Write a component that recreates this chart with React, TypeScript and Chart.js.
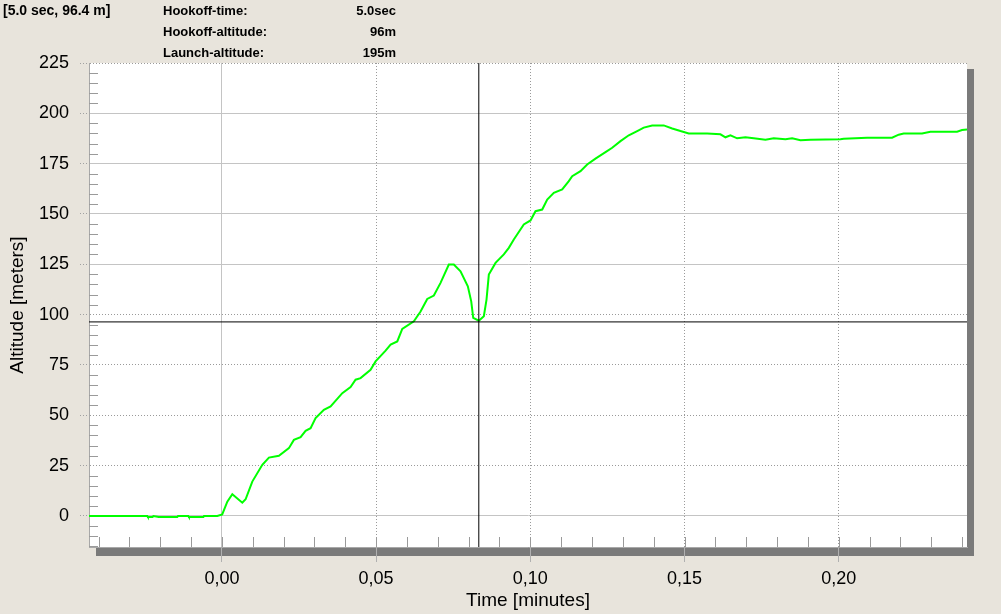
import React, { useEffect, useRef } from 'react';
import { Chart, registerables } from 'chart.js';

Chart.register(...registerables);

// Time in minutes, altitude in meters
const timeMin: number[] = [
  -0.0431, -0.0242, -0.024, -0.0225, -0.0222, -0.0205, -0.0145, -0.0142, -0.0109, -0.0107,
  -0.006, -0.0058, -0.0015, 0.0001, 0.00175, 0.00337, 0.00661, 0.00768, 0.00985, 0.0131,
  0.01524, 0.01848, 0.02172, 0.02334, 0.02551, 0.02713, 0.02875, 0.03037, 0.03306, 0.03524,
  0.03903, 0.04172, 0.04334, 0.04496, 0.0482, 0.04982, 0.053, 0.0547, 0.05686, 0.05848,
  0.06224, 0.06441, 0.06658, 0.06872, 0.07089, 0.07358, 0.0752, 0.07737, 0.07974, 0.08084,
  0.08149, 0.08331, 0.08493, 0.0858, 0.08655, 0.08872, 0.09141, 0.09303, 0.09465, 0.09789,
  0.10006, 0.10168, 0.10386, 0.10548, 0.10762, 0.11034, 0.11248, 0.11358, 0.11627, 0.11844,
  0.12113, 0.12438, 0.12655, 0.12924, 0.13193, 0.13465, 0.13679, 0.13951, 0.14327, 0.146,
  0.14869, 0.15138, 0.15734, 0.16165, 0.16327, 0.1649, 0.16707, 0.16976, 0.17245, 0.17624,
  0.17893, 0.18273, 0.1849, 0.18759, 0.19083, 0.20055, 0.20162, 0.2092, 0.21731, 0.21945,
  0.22107, 0.22703, 0.22973, 0.23838, 0.24, 0.2416,
];
const altitudeM: number[] = [
  0, 0, -0.5, -0.5, 0, -0.5, -0.5, 0, 0, -0.5,
  -0.5, 0, 0, 0.8, 7.1, 10.8, 6.6, 8.3, 17.1, 25.4,
  29, 29.9, 33.7, 37.8, 39.2, 42.3, 43.6, 48.6, 52.7, 54.4,
  61, 64, 67.7, 68.5, 72.6, 76.8, 82, 85.1, 86.7, 92.9,
  96.7, 101.6, 107.8, 109.5, 115.8, 124.9, 124.9, 121.5, 114.1, 106.6,
  98.4, 97, 99.2, 107.5, 119.9, 125.7, 129.9, 133.2, 137.3, 144.8,
  146.8, 151.4, 152.2, 157.2, 160.5, 162.2, 166.3, 168.8, 171.3, 174.6,
  177.5, 180.7, 182.9, 186.2, 189.1, 191.2, 192.9, 194, 194, 192.5,
  191.2, 190, 190, 189.6, 188.1, 189.1, 187.6, 188.1, 187.6, 186.9,
  187.6, 187.1, 187.6, 186.6, 186.9, 187.1, 187.4, 187.9, 187.9, 189.4,
  190, 190, 190.9, 190.9, 191.7, 192,
];

// Hook-off marker (crosshair)
const hookoffTimeMin = 0.0833;
const hookoffAltitude = 96.4;

// Axis ranges and ticks
const xMin = -0.0431;
const xMax = 0.2416;
const yMin = -15.4;
const yMax = 225;
const xMajorStep = 0.05;
const yMajorStep = 25;
const xMinorStep = 0.01;
const yMinorStep = 5;
const xSolidGrid = [0];
const ySolidGrid = [0, 125, 150, 175, 200];

// Header texts
const cursorText = '[5.0 sec, 96.4 m]';
const infoLabels = ['Hookoff-time:', 'Hookoff-altitude:', 'Launch-altitude:'];
const infoValues = ['5.0sec', '96m', '195m'];

const near = (a: number, b: number) => Math.abs(a - b) < 1e-6;

const decorPlugin = {
  id: 'decor',
  beforeDraw(chart: any) {
    const { ctx, chartArea: a } = chart;
    ctx.save();
    ctx.fillStyle = '#7a7a7a';
    ctx.fillRect(a.left + 7, a.top + 6, a.right - a.left, a.bottom - a.top + 3);
    ctx.fillStyle = '#ffffff';
    ctx.fillRect(a.left, a.top, a.right - a.left, a.bottom - a.top);
    ctx.restore();
  },
  beforeDatasetsDraw(chart: any) {
    const { ctx, chartArea: a, scales } = chart;
    ctx.save();
    ctx.strokeStyle = '#9a9a9a';
    ctx.lineWidth = 1;
    ctx.beginPath();
    const ys = scales.y;
    const first = Math.ceil(yMin / yMinorStep);
    const last = Math.floor(yMax / yMinorStep);
    for (let i = first; i <= last; i++) {
      const v = i * yMinorStep;
      if (Math.abs(v % yMajorStep) < 1e-6) continue;
      const py = Math.round(ys.getPixelForValue(v)) + 0.5;
      ctx.moveTo(a.left, py);
      ctx.lineTo(a.left + 9, py);
    }
    const xs = scales.x;
    const fx = Math.ceil(xMin / xMinorStep - 1e-9);
    const lx = Math.floor(xMax / xMinorStep + 1e-9);
    for (let i = fx; i <= lx; i++) {
      const v = i * xMinorStep;
      const px = Math.round(xs.getPixelForValue(v)) + 0.5;
      ctx.moveTo(px, a.bottom);
      ctx.lineTo(px, a.bottom - 10);
    }
    ctx.stroke();
    ctx.restore();
  },
};

export default function App() {
  const ref = useRef<HTMLCanvasElement>(null);

  useEffect(() => {
    document.body.style.margin = '0';
    const points = timeMin.map((t, i) => ({ x: t, y: altitudeM[i] }));
    const chart = new Chart(ref.current as HTMLCanvasElement, {
      type: 'line',
      data: {
        datasets: [
          {
            data: points,
            borderColor: '#00ff00',
            borderWidth: 2,
            pointRadius: 0,
            tension: 0,
            order: 2,
          },
          {
            data: [
              { x: hookoffTimeMin, y: yMin },
              { x: hookoffTimeMin, y: yMax },
            ],
            borderColor: '#000000',
            borderWidth: 1,
            pointRadius: 0,
            order: 1,
          },
          {
            data: [
              { x: xMin, y: hookoffAltitude },
              { x: xMax, y: hookoffAltitude },
            ],
            borderColor: '#000000',
            borderWidth: 1,
            pointRadius: 0,
            order: 1,
          },
        ],
      },
      options: {
        animation: false,
        responsive: false,
        events: [],
        layout: { padding: { top: 63, right: 34, left: 0, bottom: 0 } },
        plugins: { legend: { display: false }, tooltip: { enabled: false } },
        scales: {
          x: {
            type: 'linear',
            min: xMin,
            max: xMax,
            afterFit: (s: any) => {
              s.height = 67;
            },
            ticks: {
              stepSize: xMajorStep,
              includeBounds: false,
              autoSkip: false,
              maxRotation: 0,
              padding: 6,
              color: '#000',
              font: { family: 'Liberation Sans', size: 18 },
              callback: (v: any) => Number(v).toFixed(2).replace('.', ','),
            },
            grid: {
              color: (c: any) =>
                c.tick && xSolidGrid.some((s) => near(s, c.tick.value)) ? '#c4c4c4' : '#9a9a9a',
              tickLength: 15,
              tickColor: '#b0b0b0',
            },
            border: {
              color: '#a8a8a8',
              dash: (c: any) =>
                c.tick && !xSolidGrid.some((s) => near(s, c.tick.value)) ? [1, 2] : [],
            },
            title: {
              display: true,
              text: 'Time [minutes]',
              color: '#000',
              font: { family: 'Liberation Sans', size: 19 },
              padding: { top: 0, bottom: 2 },
            },
          },
          y: {
            type: 'linear',
            min: yMin,
            max: yMax,
            afterFit: (s: any) => {
              s.width = 89;
            },
            ticks: {
              stepSize: yMajorStep,
              includeBounds: false,
              autoSkip: false,
              padding: 11,
              color: '#000',
              font: { family: 'Liberation Sans', size: 18 },
              callback: (v: any) => String(Math.round(Number(v))),
            },
            grid: {
              color: (c: any) =>
                c.tick && ySolidGrid.some((s) => near(s, c.tick.value)) ? '#c4c4c4' : '#9a9a9a',
              tickLength: 9,
              tickColor: '#a0a0a0',
              tickBorderDash: [1, 2],
            },
            border: {
              color: '#a8a8a8',
              dash: (c: any) =>
                c.tick && !ySolidGrid.some((s) => near(s, c.tick.value)) ? [1, 2] : [],
            },
            title: {
              display: true,
              text: 'Altitude [meters]',
              color: '#000',
              font: { family: 'Liberation Sans', size: 19 },
              padding: { top: 6, bottom: 0 },
            },
          },
        },
      },
      plugins: [decorPlugin],
    } as any);
    return () => chart.destroy();
  }, []);

  const headFont = 'bold 13px "Liberation Sans", Arial, sans-serif';
  return (
    <div
      style={{
        position: 'absolute',
        left: 0,
        top: 0,
        width: 1001,
        height: 614,
        background: '#e8e4dc',
        overflow: 'hidden',
      }}
    >
      <canvas ref={ref} width={1001} height={614} style={{ position: 'absolute', left: 0, top: 0 }} />
      <div style={{ position: 'absolute', left: 3, top: 2, font: 'bold 14px "Liberation Sans", Arial, sans-serif', lineHeight: '16px', color: '#000' }}>
        {cursorText}
      </div>
      {infoLabels.map((l, i) => (
        <div key={l} style={{ position: 'absolute', left: 163, top: 3 + i * 21, font: headFont, lineHeight: '15px', color: '#000' }}>
          {l}
        </div>
      ))}
      {infoValues.map((v, i) => (
        <div key={v} style={{ position: 'absolute', right: 1001 - 396, top: 3 + i * 21, font: headFont, lineHeight: '15px', color: '#000', textAlign: 'right' }}>
          {v}
        </div>
      ))}
    </div>
  );
}
